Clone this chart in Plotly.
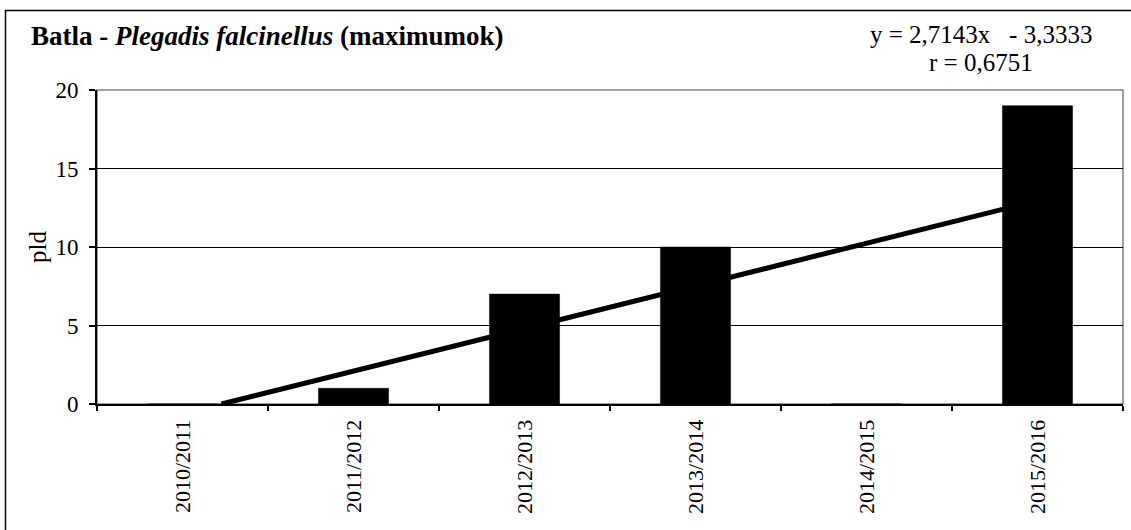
import plotly.graph_objects as go

categories = ["2010/2011", "2011/2012", "2012/2013", "2013/2014", "2014/2015", "2015/2016"]
values = [0, 1, 7, 10, 0, 19]
slope = 2.7143
intercept = -3.3333
r_value = 0.6751
y_ticks = [0, 5, 10, 15, 20]

FONT = "Liberation Serif"

# trend line over category index 1..n, clipped at y = 0
n = len(categories)
x_start = max(1.0, -intercept / slope)
trend_x = [x_start, float(n)]
trend_y = [slope * x + intercept for x in trend_x]

L, T, R, B = 97, 90, 1123, 404  # plot area in page pixels
PW, PH = R - L, B - T


def px(x):
    return (x - L) / PW


def py(y):
    return (B - y) / PH


fig = go.Figure()
fig.add_trace(go.Bar(x=categories, y=values, marker=dict(color="black", line=dict(color="black", width=0.5)),
                     showlegend=False, hoverinfo="x+y"))
fig.add_trace(go.Scatter(x=trend_x, y=trend_y, xaxis="x2", mode="lines",
                         line=dict(color="black", width=5), showlegend=False, hoverinfo="skip"))

fig.update_layout(
    width=1131, height=530,
    margin=dict(l=L, r=1131 - R, t=T, b=530 - B),
    paper_bgcolor="white", plot_bgcolor="white",
    bargap=0.59,
    font=dict(family=FONT, color="black", size=22),
    xaxis=dict(type="category", range=[-0.5, n - 0.5], tickson="boundaries", ticks="outside",
               ticklen=5, tickcolor="black", tickwidth=1.5, showline=True, linecolor="black", linewidth=2,
               tickangle=-90, tickfont=dict(family=FONT, size=22, color="black"), showgrid=False,
               zeroline=False, fixedrange=True, ticklabelstandoff=5),
    xaxis2=dict(overlaying="x", range=[0.5, n + 0.5], visible=False, fixedrange=True),
    yaxis=dict(range=[0, 20], tickvals=y_ticks, ticks="outside", ticklen=6, tickcolor="black", tickwidth=1.5,
               showline=True, linecolor="black", linewidth=2, showgrid=True, gridcolor="black", gridwidth=1,
               zeroline=False, tickfont=dict(family=FONT, size=23, color="black"), ticklabelstandoff=6,
               title=dict(text="pld", font=dict(family=FONT, size=25, color="black"), standoff=2),
               fixedrange=True),
    shapes=[
        dict(type="rect", xref="paper", yref="paper", x0=0, x1=1, y0=0, y1=1,
             line=dict(color="#808080", width=1.5), layer="below"),
        dict(type="rect", xref="paper", yref="paper", x0=px(5.5), x1=px(1140),
             y0=py(540), y1=py(10.5), line=dict(color="black", width=1.5)),
    ],
    annotations=[
        dict(xref="paper", yref="paper", x=px(29), y=py(36), xanchor="left", yanchor="middle",
             showarrow=False, font=dict(family=FONT, size=27, color="black"),
             text="<b>Batla - <i>Plegadis falcinellus</i> (maximumok)</b>"),
        dict(xref="paper", yref="paper", x=px(981), y=py(34), xanchor="center",
             yanchor="middle", showarrow=False, font=dict(family=FONT, size=25, color="black"),
             text=("y = " + f"{slope:.4f}".replace(".", ",") + "x\u00a0\u00a0 - "
                   + f"{abs(intercept):.4f}".replace(".", ","))),
        dict(xref="paper", yref="paper", x=px(981), y=py(63), xanchor="center",
             yanchor="middle", showarrow=False, font=dict(family=FONT, size=25, color="black"),
             text="r = " + f"{r_value:.4f}".replace(".", ",")),
    ],
)

fig.write_html("out.html", config={"displayModeBar": False},
               post_script="document.body.style.margin='0';")
